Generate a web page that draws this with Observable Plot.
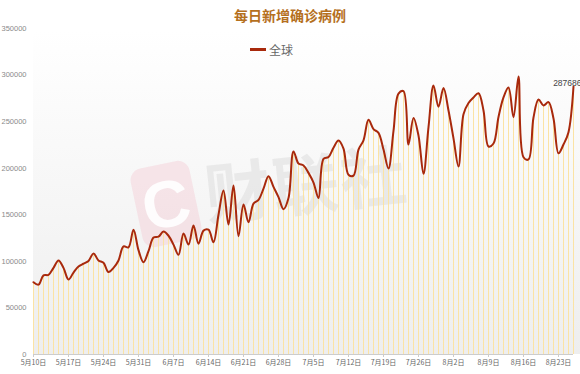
<!DOCTYPE html>
<html><head><meta charset="utf-8">
<script src="https://cdn.jsdelivr.net/npm/d3@7"></script>
<script src="https://cdn.jsdelivr.net/npm/@observablehq/plot@0.6"></script>
<style>
body{margin:0;background:#fff;font-family:"Noto Sans CJK SC","Noto Sans",sans-serif;}
#wrap{position:relative;width:580px;height:374px;overflow:hidden;}
#bg{position:absolute;left:33px;top:30px;width:547px;height:324px;background:linear-gradient(#ffffff,#eeeeee);}
#wm1{position:absolute;left:136px;top:164px;width:60px;height:80px;border-radius:12px;background:rgba(245,205,212,0.45);transform:rotate(-12deg);color:rgba(255,255,255,0.9);font:bold 66px/80px "Liberation Sans",sans-serif;text-align:center;}
#wm2{position:absolute;left:204px;top:140px;font:bold 66px/80px "Noto Sans CJK SC",sans-serif;color:rgba(205,205,205,0.35);transform:rotate(-6deg);letter-spacing:2px;}
#title{position:absolute;left:0;top:5px;width:580px;text-align:center;font-weight:bold;font-size:14px;color:#b5701e;}
#legend{position:absolute;left:250px;top:41px;font-size:12px;color:#666;display:flex;align-items:center;}
#legend span.sw{display:inline-block;width:16px;height:2.5px;background:#a8290c;margin-right:3px;}
#chart{position:absolute;left:0;top:0;}
</style></head>
<body>
<div id="wrap">
  <div id="bg"></div>
  <div id="wm1">C</div>
  <div id="wm2">财联社</div>
  <div id="chart"></div>
  <div id="title">每日新增确诊病例</div>
  <div id="legend"><span class="sw"></span><span>全球</span></div>
</div>
<script>
const seriesName = "全球";
const startDate = new Date(Date.UTC(2020, 4, 10));
const values = [
 77600,75000,85000,85500,93000,101000,93000,80500,88000,94500,
 97500,100500,108400,101000,98500,88500,93000,101000,116000,115000,
 134000,112000,99000,111000,125500,126500,132000,127500,118000,107000,
 130000,118000,138500,119000,133000,134000,120500,150000,176000,139500,
 181500,127000,161000,142000,162000,166000,178000,191500,180000,169000,
 156000,168000,218000,205000,203000,195000,184600,168000,210000,212000,
 222000,229700,221000,193000,192000,220000,230000,252000,242000,238000,
 220000,199700,240000,280000,282700,225500,254000,235000,194000,244000,
 288800,266000,286000,262000,232000,201800,258000,270000,276000,280500,
 262000,223300,226500,255000,276000,286600,254800,298500,211800,209400,
 254400,273800,267300,271000,253400,216000,225500,238700,287686
];
const dates = values.map((_, i) => d3.utcDay.offset(startDate, i));
const yTicks = [0, 50000, 100000, 150000, 200000, 250000, 300000, 350000];
const xTicks = dates.filter((_, i) => i % 7 === 0);
const data = dates.map((d, i) => ({date: d, value: values[i]}));
const last = data[data.length - 1];

const chart = Plot.plot({
  width: 580, height: 374,
  marginLeft: 33, marginRight: 7, marginTop: 28, marginBottom: 20,
  style: {background: "transparent", fontFamily: '"Noto Sans CJK SC", sans-serif', fontSize: "9px", color: "#888"},
  x: {type: "utc", domain: [dates[0], dates[dates.length - 1]]},
  y: {domain: [0, 350000]},
  marks: [
    Plot.ruleX(data, {x: "date", y1: 0, y2: "value", stroke: "#fbe3a4", strokeWidth: 1}),
    Plot.ruleY([0], {stroke: "#ccc"}),
    Plot.axisY({ticks: yTicks, tickSize: 0, tickPadding: 7, tickFormat: d => String(d), label: null, fill: "#8a8a8a", fontSize: 7.5, fontFamily: '"Liberation Sans", sans-serif'}),
    Plot.axisX({ticks: xTicks, tickSize: 3, tickPadding: 3, stroke: "#ccc", tickFormat: d => `${d.getUTCMonth() + 1}月${d.getUTCDate()}日`, label: null, fill: "#666", fontSize: 7}),
    Plot.line(data, {x: "date", y: "value", curve: "catmull-rom", stroke: "#a8290c", strokeWidth: 2}),
    Plot.text([last], {x: "date", y: "value", text: d => String(d.value), textAnchor: "end", dx: 8, dy: -3, fill: "#444", fontSize: 8.5, fontFamily: '"Liberation Sans", sans-serif'})
  ]
});
document.getElementById("chart").appendChild(chart);
</script>
</body></html>
